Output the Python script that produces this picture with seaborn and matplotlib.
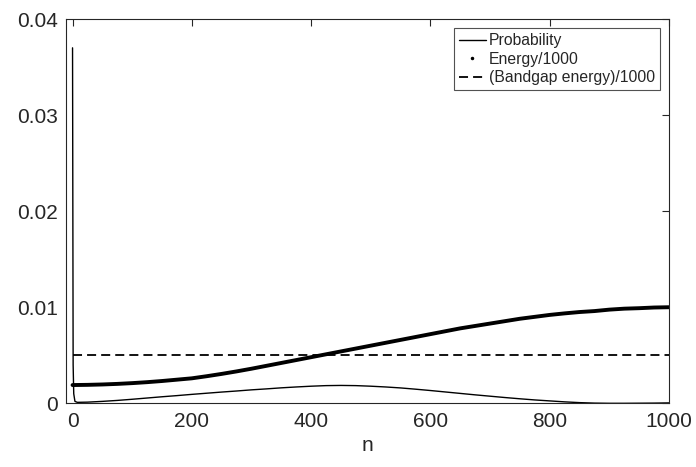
import numpy as np
import pandas as pd
import seaborn as sns
import matplotlib.pyplot as plt
from matplotlib.lines import Line2D

# values
prob_n = [0, 1, 2, 4, 8, 25, 50, 75, 100, 125, 150, 175, 200, 225, 250, 275,
          300, 325, 350, 375, 400, 425, 450, 475, 500, 525, 550, 575, 600,
          625, 650, 675, 700, 725, 750, 775, 800, 825, 850, 875, 900, 925,
          950, 975, 1000]
probability = [0.037, 0.004, 0.001, 0.0002, 0.0001, 0.00012, 0.0002, 0.0003,
               0.00042, 0.00055, 0.00068, 0.0008, 0.00093, 0.00105, 0.00117,
               0.00128, 0.0014, 0.0015, 0.00161, 0.0017, 0.00178, 0.00184,
               0.00186, 0.00184, 0.00178, 0.0017, 0.0016, 0.00147, 0.00133,
               0.00118, 0.00103, 0.00088, 0.00074, 0.0006, 0.00047, 0.00035,
               0.00025, 0.00015, 0.00007, 0.00002, 0.0, 0.0, 0.00001,
               0.00002, 0.00004]

energy_n = [0, 25, 50, 75, 100, 125, 150, 175, 200, 225, 250, 275, 300, 325,
            350, 375, 400, 425, 450, 475, 500, 525, 550, 575, 600, 625, 650,
            675, 700, 725, 750, 775, 800, 825, 850, 875, 900, 925, 950, 975,
            1000]
energy = [0.0019, 0.00192, 0.00196, 0.00202, 0.0021, 0.0022, 0.00232,
          0.00246, 0.0026, 0.00282, 0.00306, 0.00332, 0.0036, 0.0039, 0.0042,
          0.0045, 0.0048, 0.0051, 0.0054, 0.0057, 0.0060, 0.0063, 0.0066,
          0.0069, 0.0072, 0.0075, 0.0078, 0.00805, 0.0083, 0.00855, 0.0088,
          0.009, 0.0092, 0.00936, 0.0095, 0.0096, 0.00975, 0.00985, 0.0099,
          0.00997, 0.0100]

bandgap_n = [0, 1000]
bandgap = [0.005, 0.005]

x_ticks = [0, 200, 400, 600, 800, 1000]
y_ticks = [0, 0.01, 0.02, 0.03, 0.04]
y_ticklabels = ['0', '0.01', '0.02', '0.03', '0.04']

sns.set_style('white')
plt.rcParams['font.family'] = ['Liberation Sans', 'DejaVu Sans']

fig = plt.figure(figsize=(6.96, 4.67), dpi=100)
ax = fig.add_axes([0.0948, 0.1364, 0.8664, 0.8229])

sns.lineplot(x=prob_n, y=probability, color='k', lw=1.0, ax=ax)
sns.lineplot(x=energy_n, y=energy, color='k', lw=2.8, ax=ax)
sns.lineplot(x=bandgap_n, y=bandgap, color='k', lw=1.3, ax=ax)
ax.lines[-1].set_linestyle((0, (5, 2.8)))

ax.set_xlim(-11, 1000)
ax.set_ylim(0, 0.04)
ax.set_xticks(x_ticks)
ax.set_xticklabels([str(t) for t in x_ticks])
ax.set_yticks(y_ticks)
ax.set_yticklabels(y_ticklabels)
ax.set_xlabel('n', fontsize=15, color='#262626')

ax.tick_params(direction='in', top=True, right=True, length=5, width=0.8,
               labelsize=15, colors='#262626', pad=6)
for s in ax.spines.values():
    s.set_visible(True)
    s.set_color('#262626')
    s.set_linewidth(0.8)

handles = [
    Line2D([], [], color='k', lw=1.0),
    Line2D([], [], color='k', ls='none', marker='.', markersize=3),
    Line2D([], [], color='k', lw=1.3, ls=(0, (5, 2.8))),
]
labels = ['Probability', 'Energy/1000', '(Bandgap energy)/1000']
leg = ax.legend(handles, labels, loc='upper right', fontsize=11.3,
                frameon=True, fancybox=False, edgecolor='#262626',
                handlelength=1.7, handletextpad=0.2, borderpad=0.3,
                labelspacing=0.22, borderaxespad=0.6)
leg.get_frame().set_linewidth(0.8)

fig.savefig('out.png', dpi=100)
